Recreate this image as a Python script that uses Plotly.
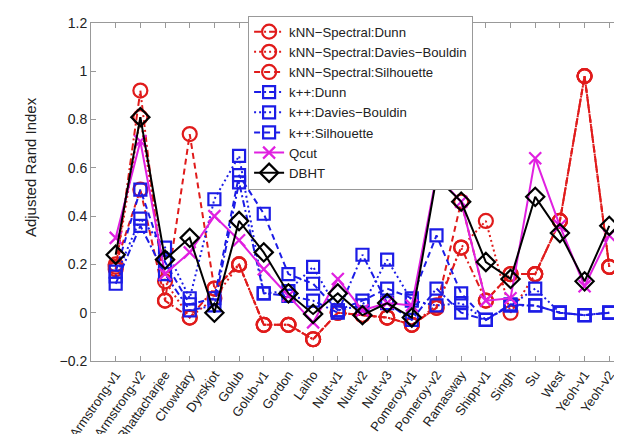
import plotly.graph_objects as go

datasets = ["Armstrong-v1", "Armstrong-v2", "Bhattacharjee", "Chowdary", "Dyrskjot",
            "Golub", "Golub-v1", "Gordon", "Laiho", "Nutt-v1", "Nutt-v2", "Nutt-v3",
            "Pomeroy-v1", "Pomeroy-v2", "Ramasway", "Shipp-v1", "Singh", "Su", "West",
            "Yeoh-v1", "Yeoh-v2"]

knn_dunn = [0.18, 0.92, 0.05, -0.02, 0.10, 0.20, -0.05, -0.05, -0.11, 0.00, -0.01,
            -0.02, -0.05, 0.02, 0.27, 0.05, 0.16, 0.16, 0.38, 0.98, 0.19]
knn_db = [0.19, 0.81, 0.13, -0.02, 0.06, 0.20, -0.05, -0.05, -0.11, 0.00, -0.01,
          -0.02, -0.05, 0.03, 0.27, 0.38, 0.00, 0.16, 0.38, 0.98, 0.19]
knn_sil = [0.20, 0.51, 0.05, 0.74, 0.10, 0.20, -0.05, -0.05, -0.11, 0.00, -0.01,
           -0.02, -0.05, 0.02, 0.46, 0.05, 0.16, 0.16, 0.38, 0.98, 0.19]
kpp_dunn = [0.12, 0.36, 0.16, 0.01, 0.03, 0.54, 0.08, 0.07, 0.05, 0.00, 0.24,
            0.04, -0.03, 0.10, 0.00, -0.03, 0.03, 0.03, 0.00, -0.01, 0.00]
kpp_db = [0.15, 0.39, 0.27, 0.06, 0.47, 0.65, 0.08, 0.09, 0.19, 0.01, 0.03,
          0.22, 0.05, 0.03, 0.04, -0.03, 0.03, 0.10, 0.00, -0.01, 0.00]
kpp_sil = [0.17, 0.51, 0.21, 0.035, 0.06, 0.57, 0.41, 0.16, 0.12, 0.01, 0.05,
           0.10, 0.06, 0.32, 0.08, -0.03, 0.035, 0.03, 0.00, -0.01, 0.00]
qcut = [0.31, 0.71, 0.16, 0.25, 0.40, 0.30, 0.18, 0.07, -0.04, 0.14, 0.01,
        0.04, 0.03, 0.57, 0.46, 0.05, 0.06, 0.64, 0.36, 0.11, 0.32]
dbht = [0.24, 0.81, 0.22, 0.31, 0.00, 0.38, 0.25, 0.08, -0.005, 0.08, -0.01,
        0.04, -0.02, 0.56, 0.46, 0.21, 0.14, 0.48, 0.33, 0.13, 0.36]

y_ticks = [-0.2, 0, 0.2, 0.4, 0.6, 0.8, 1, 1.2]
y_tick_text = ["\u22120.2", "0", "0.2", "0.4", "0.6", "0.8", "1", "1.2"]

RED = "#e01b1b"
BLUE = "#1c1ce6"
MAG = "#e020e0"
FONT = "Liberation Sans, Arial, sans-serif"

DASH = "6px,4px"
DOT = "2px,3px"
DASHDOT = "7px,3px,2px,3px"

series = [
    ("kNN\u2212Spectral:Dunn", knn_dunn, RED, DASHDOT, "circle-open", 14),
    ("kNN\u2212Spectral:Davies\u2212Bouldin", knn_db, RED, DOT, "circle-open", 14),
    ("kNN\u2212Spectral:Silhouette", knn_sil, RED, DASH, "circle-open", 14),
    ("k++:Dunn", kpp_dunn, BLUE, DASHDOT, "square-open", 12),
    ("k++:Davies\u2212Bouldin", kpp_db, BLUE, DOT, "square-open", 12),
    ("k++:Silhouette", kpp_sil, BLUE, DASH, "square-open", 12),
    ("Qcut", qcut, MAG, "solid", "x-thin-open", 12),
    ("DBHT", dbht, "black", "solid", "diamond-open", 14),
]

fig = go.Figure()
for name, vals, col, dash, sym, size in series:
    fig.add_trace(go.Scatter(
        x=datasets, y=vals, name=name, mode="lines+markers",
        line=dict(color=col, width=2, dash=dash),
        marker=dict(symbol=sym, size=size, color=col, line=dict(width=2.2, color=col)),
    ))

fig.update_layout(
    width=622, height=434,
    margin=dict(l=83, r=0, t=15, b=72),
    paper_bgcolor="white", plot_bgcolor="white",
    font=dict(family=FONT, size=14, color="#222"),
    showlegend=True,
    legend=dict(x=0.292, y=1.022, xanchor="left", yanchor="top",
                bgcolor="white", bordercolor="#999", borderwidth=1,
                font=dict(size=13.2, color="#222"), tracegroupgap=0),
    xaxis=dict(type="category", range=[-1, 20.8], tickangle=-55,
               showline=True, linecolor="#999", linewidth=1, mirror="ticks",
               ticks="inside", ticklen=5, tickcolor="#999", showgrid=False,
               tickfont=dict(size=13, color="#222"), zeroline=False),
    yaxis=dict(range=[-0.2, 1.2], tickvals=y_ticks, ticktext=y_tick_text,
               showline=True, linecolor="#999", linewidth=1, mirror="ticks",
               ticks="inside", ticklen=5, tickcolor="#999", showgrid=False,
               tickfont=dict(size=14, color="#222"), zeroline=False),
    annotations=[dict(text="Adjusted Rand Index", xref="paper", yref="paper",
                      x=-0.112, y=0.573, xanchor="center", yanchor="middle",
                      textangle=-90, showarrow=False,
                      font=dict(size=15, color="#222"))],
)

fig.write_html("out.html")
